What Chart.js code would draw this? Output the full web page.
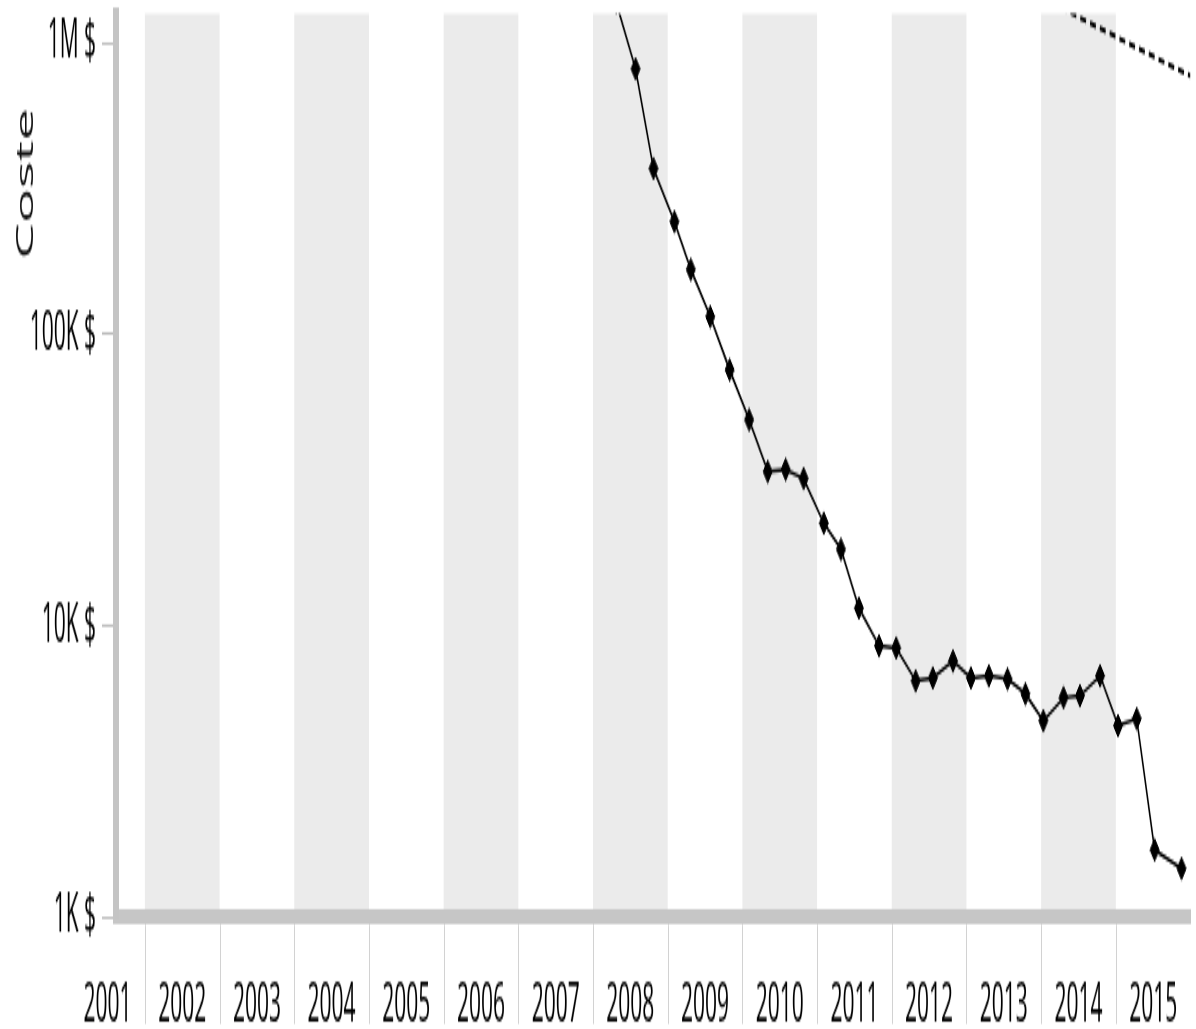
<!DOCTYPE html>
<html>
<head>
<meta charset="utf-8">
<script src="https://cdn.jsdelivr.net/npm/chart.js@4/dist/chart.umd.min.js"></script>
<style>
    html { overflow: hidden; }
    body { margin: 0; padding: 0; background: #fff; width: 1196px; height: 1029px; }
    /* the reference is stretched vertically, so draw flat and scale up */
    #wrap {
        width: 1196px;
        height: 412px;
        transform: scaleY(2.4976);
        transform-origin: 0 0;
    }
</style>
</head>
<body>
<div id="wrap"><canvas id="Chart"></canvas></div>
<script>
// year bands on the x axis
const years = [2001, 2002, 2003, 2004, 2005, 2006, 2007, 2008, 2009, 2010, 2011, 2012, 2013, 2014, 2015];
const shadedYears = [2002, 2004, 2006, 2008, 2010, 2012, 2014];

// cost series, quarterly
const costYears = [
    2008.31, 2008.57, 2008.81, 2009.09, 2009.31, 2009.57, 2009.83,
    2010.09, 2010.34, 2010.58, 2010.82, 2011.09, 2011.32, 2011.56, 2011.83,
    2012.06, 2012.32, 2012.55, 2012.82, 2013.06, 2013.30, 2013.55, 2013.79,
    2014.03, 2014.30, 2014.52, 2014.79, 2015.03, 2015.28, 2015.52, 2015.88
];
const costValues = [
    1380000, 815000, 371000, 244000, 167000, 115000, 75500,
    50900, 33800, 34400, 32000, 22500, 18300, 11500, 8530,
    8390, 6470, 6620, 7570, 6620, 6730, 6570, 5840,
    4720, 5660, 5750, 6730, 4540, 4800, 1700, 1470
];

// dashed trend at the top right
const trendYears = [2014.0, 2016.0];
const trendValues = [1435000, 771000];

const yTickValues = [1000, 10000, 100000, 1000000];
const yTickLabels = ["1K $", "10K $", "100K $", "1M $"];

document.addEventListener("DOMContentLoaded", function () {
    Chart.defaults.font.family = "'Open Sans', 'Noto Sans', sans-serif";
    Chart.defaults.color = "#000";

    let bands = {
        id: "yearBands",
        beforeDraw: function (chart) {
            let ctx = chart.ctx;
            let area = chart.chartArea;
            let x = chart.scales.x;
            ctx.save();
            ctx.fillStyle = "#fff";
            ctx.fillRect(0, 0, chart.width, chart.height);
            ctx.fillStyle = "#ebebeb";
            shadedYears.forEach(function (yr) {
                let l = Math.max(x.getPixelForValue(yr), area.left);
                let r = Math.min(x.getPixelForValue(yr + 1), area.right);
                ctx.fillRect(l, area.top, r - l, area.bottom - area.top);
            });
            ctx.restore();
        },
        afterDraw: function (chart) {
            let ctx = chart.ctx;
            let area = chart.chartArea;
            let x = chart.scales.x;
            ctx.save();
            // separators between year labels
            ctx.strokeStyle = "#d2d2d2";
            ctx.lineWidth = 1;
            years.forEach(function (yr) {
                let px = Math.round(x.getPixelForValue(yr + 1)) + 0.5;
                if (px < area.left || px > area.right) return;
                ctx.beginPath();
                ctx.moveTo(px, area.bottom + 3);
                ctx.lineTo(px, chart.height - 2);
                ctx.stroke();
            });
            // axis title
            ctx.translate(26, area.top + 68);
            ctx.rotate(-Math.PI / 2);
            ctx.font = "23px 'Open Sans', sans-serif";
            ctx.fillStyle = "#111";
            ctx.textAlign = "center";
            ctx.textBaseline = "middle";
            ctx.fillText("Coste", 0, 0);
            ctx.restore();
        },
    };

    let ctx = document.getElementById("Chart").getContext("2d");

    let chart = new Chart(ctx, {
        type: "line",
        data: {
            datasets: [
                {
                    label: "Coste",
                    data: costYears.map(function (yr, i) {
                        return { x: yr, y: costValues[i] };
                    }),
                    borderColor: "#000",
                    borderWidth: 1.5,
                    pointStyle: "rectRot",
                    pointRadius: 4.5,
                    pointBackgroundColor: "#000",
                    pointBorderColor: "#000",
                    pointBorderWidth: 1,
                    tension: 0,
                },
                {
                    label: "Tendencia",
                    data: trendYears.map(function (yr, i) {
                        return { x: yr, y: trendValues[i] };
                    }),
                    borderColor: "#000",
                    borderWidth: 2,
                    borderDash: [6, 4],
                    pointRadius: 0,
                },
            ],
        },
        options: {
            responsive: true,
            maintainAspectRatio: false,
            animation: false,
            layout: {
                padding: { top: 4.4, left: 0, right: 0, bottom: 0 },
            },
            scales: {
                x: {
                    type: "linear",
                    min: 2001.613,
                    max: 2016,
                    grid: { display: false, drawTicks: false },
                    border: { display: true, color: "#c6c6c6", width: 6 },
                    ticks: {
                        autoSkip: false,
                        maxRotation: 0,
                        padding: 23,
                        font: { size: 21 },
                        callback: function (value, index) {
                            return String(years[index]);
                        },
                    },
                    afterBuildTicks: function (scale) {
                        scale.ticks = years.map(function (yr) {
                            return { value: yr + 0.5 };
                        });
                    },
                    afterFit: function (scale) {
                        scale.height = 44.8;
                        scale.paddingLeft = 0;
                        scale.paddingRight = 0;
                    },
                },
                y: {
                    type: "logarithmic",
                    min: 1000,
                    max: 1260000,
                    grid: {
                        display: true,
                        drawOnChartArea: false,
                        drawTicks: true,
                        tickLength: 14,
                        color: "#bdbdbd",
                        lineWidth: 1,
                    },
                    border: { display: true, color: "#c4c4c4", width: 6 },
                    ticks: {
                        autoSkip: false,
                        padding: 6,
                        font: { size: 21 },
                        callback: function (value, index) {
                            return yTickLabels[index];
                        },
                    },
                    afterBuildTicks: function (scale) {
                        scale.ticks = yTickValues.map(function (v) {
                            return { value: v };
                        });
                    },
                    afterFit: function (scale) {
                        scale.width = 116;
                        scale.paddingTop = 0;
                        scale.paddingBottom = 0;
                    },
                },
            },
            plugins: {
                legend: { display: false },
                title: { display: false },
                tooltip: { enabled: false },
            },
        },
        plugins: [bands],
    });
});
</script>
</body>
</html>
